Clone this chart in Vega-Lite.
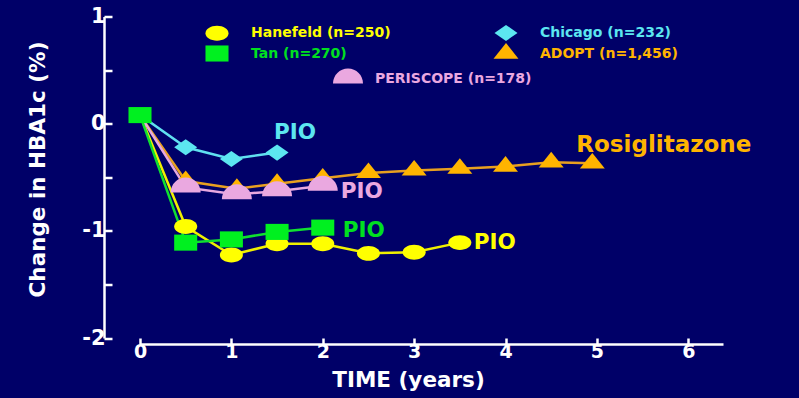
{
  "$schema": "https://vega.github.io/schema/vega-lite/v6.json",
  "width": 583,
  "height": 321.5,
  "autosize": {"type": "none"},
  "padding": {"left": 140, "top": 16.5, "right": 76, "bottom": 60},
  "background": "#000068",
  "config": {"view": {"stroke": null}, "font": "DejaVu Sans"},
  "data": {
    "values": [
      {"study": "Hanefeld (n=250)", "t": 0, "v": 0.08},
      {"study": "Hanefeld (n=250)", "t": 0.5, "v": -0.96},
      {"study": "Hanefeld (n=250)", "t": 1, "v": -1.225},
      {"study": "Hanefeld (n=250)", "t": 1.5, "v": -1.12},
      {"study": "Hanefeld (n=250)", "t": 2, "v": -1.12},
      {"study": "Hanefeld (n=250)", "t": 2.5, "v": -1.21},
      {"study": "Hanefeld (n=250)", "t": 3, "v": -1.2},
      {"study": "Hanefeld (n=250)", "t": 3.5, "v": -1.11},
      {"study": "Chicago (n=232)", "t": 0, "v": 0.08},
      {"study": "Chicago (n=232)", "t": 0.5, "v": -0.22},
      {"study": "Chicago (n=232)", "t": 1, "v": -0.33},
      {"study": "Chicago (n=232)", "t": 1.5, "v": -0.27},
      {"study": "ADOPT (n=1,456)", "t": 0, "v": 0.08},
      {"study": "ADOPT (n=1,456)", "t": 0.5, "v": -0.535},
      {"study": "ADOPT (n=1,456)", "t": 1.06, "v": -0.607},
      {"study": "ADOPT (n=1,456)", "t": 1.5, "v": -0.56},
      {"study": "ADOPT (n=1,456)", "t": 2, "v": -0.51},
      {"study": "ADOPT (n=1,456)", "t": 2.5, "v": -0.46},
      {"study": "ADOPT (n=1,456)", "t": 3, "v": -0.436},
      {"study": "ADOPT (n=1,456)", "t": 3.5, "v": -0.42},
      {"study": "ADOPT (n=1,456)", "t": 4, "v": -0.4},
      {"study": "ADOPT (n=1,456)", "t": 4.5, "v": -0.36},
      {"study": "ADOPT (n=1,456)", "t": 4.95, "v": -0.37},
      {"study": "PERISCOPE (n=178)", "t": 0, "v": 0.08},
      {"study": "PERISCOPE (n=178)", "t": 0.5, "v": -0.595},
      {"study": "PERISCOPE (n=178)", "t": 1.06, "v": -0.66},
      {"study": "PERISCOPE (n=178)", "t": 1.5, "v": -0.63},
      {"study": "PERISCOPE (n=178)", "t": 2, "v": -0.58},
      {"study": "Tan (n=270)", "t": 0, "v": 0.08},
      {"study": "Tan (n=270)", "t": 0.5, "v": -1.11},
      {"study": "Tan (n=270)", "t": 1, "v": -1.08},
      {"study": "Tan (n=270)", "t": 1.5, "v": -1.01},
      {"study": "Tan (n=270)", "t": 2, "v": -0.97}
    ]
  },
  "encoding": {
    "x": {
      "field": "t", "type": "quantitative",
      "scale": {"domain": [0, 6.38], "nice": false, "zero": false},
      "axis": {
        "title": "TIME (years)", "offset": 6, "values": [0, 1, 2, 3, 4, 5, 6],
        "tickSize": -6, "tickColor": "white", "tickWidth": 2.5,
        "domainColor": "white", "domainWidth": 2.5, "grid": false,
        "labelFlush": false, "labelColor": "white", "labelFont": "DejaVu Sans",
        "labelFontSize": 19, "labelFontWeight": "bold", "labelPadding": 4,
        "titleColor": "white", "titleFont": "DejaVu Sans", "titleFontSize": 21.5,
        "titleFontWeight": "bold", "titleX": 268, "titleY": 25, "titleBaseline": "top"
      }
    },
    "y": {
      "field": "v", "type": "quantitative",
      "scale": {"domain": [-2, 1], "nice": false, "zero": false},
      "axis": {
        "title": "Change in HBA1c (%)", "offset": 36,
        "values": [-2, -1.5, -1, -0.5, 0, 0.5, 1],
        "labelExpr": "datum.value % 1 === 0 ? '' + datum.value : ''",
        "tickSize": -8, "tickColor": "white", "tickWidth": 2.5,
        "domainColor": "white", "domainWidth": 2.5, "grid": false,
        "labelColor": "white", "labelFont": "DejaVu Sans", "labelFontSize": 21,
        "labelFontWeight": "bold", "labelPadding": 7, "labelOverlap": false,
        "titleColor": "white", "titleFont": "DejaVu Sans", "titleFontSize": 21.5,
        "titleFontWeight": "bold", "titleX": -60, "titleY": 152.5,
        "titleBaseline": "alphabetic"
      }
    }
  },
  "layer": [
    {
      "mark": {"type": "line", "strokeWidth": 2.5},
      "encoding": {
        "color": {
          "field": "study", "type": "nominal", "legend": null,
          "scale": {
            "domain": ["Hanefeld (n=250)", "Tan (n=270)", "Chicago (n=232)", "ADOPT (n=1,456)", "PERISCOPE (n=178)"],
            "range": ["#f0f000", "#10e030", "#60e0f0", "#e8a020", "#e8a8e0"]
          }
        },
        "detail": {"field": "study"}
      }
    },
    {
      "transform": [{"filter": "datum.study !== 'PERISCOPE (n=178)' && (datum.t > 0 || datum.study === 'Tan (n=270)')"}],
      "mark": {"type": "point", "filled": true, "opacity": 1, "size": 576, "strokeWidth": 0},
      "encoding": {
        "color": {
          "field": "study", "type": "nominal",
          "scale": {
            "domain": ["Hanefeld (n=250)", "Tan (n=270)", "Chicago (n=232)", "ADOPT (n=1,456)"],
            "range": ["#ffff00", "#00f020", "#5ce6f0", "#ffb400"]
          },
          "legend": {
            "orient": "none", "legendX": 65, "legendY": 4, "columns": 2, "title": null,
            "padding": 0, "symbolSize": 576, "symbolStrokeWidth": 0, "symbolOpacity": 1,
            "labelFont": "DejaVu Sans", "labelFontSize": 14, "labelFontWeight": "bold",
            "labelOffset": 22, "columnPadding": 102, "rowPadding": -1,
            "encode": {"labels": {"update": {"fill": {"signal": "datum.value === 'Hanefeld (n=250)' ? '#ffff00' : datum.value === 'Tan (n=270)' ? '#00e020' : datum.value === 'Chicago (n=232)' ? '#5ce6f0' : '#ffb400'"}}}}
          }
        },
        "shape": {
          "field": "study", "type": "nominal",
          "scale": {
            "domain": ["Hanefeld (n=250)", "Tan (n=270)", "Chicago (n=232)", "ADOPT (n=1,456)"],
            "range": [
              "M -0.96 0 A 0.96 0.62 0 1 1 0.96 0 A 0.96 0.62 0 1 1 -0.96 0 Z",
              "M -0.96 -0.67 L 0.96 -0.67 L 0.96 0.67 L -0.96 0.67 Z",
              "M -0.96 0 L 0 -0.67 L 0.96 0 L 0 0.67 Z",
              "M -1.04 0.43 L 0 -0.87 L 1.04 0.43 Z"
            ]
          }
        }
      }
    },
    {
      "transform": [{"filter": "datum.study === 'PERISCOPE (n=178)' && datum.t > 0"}],
      "mark": {"type": "point", "filled": true, "opacity": 1, "size": 900, "strokeWidth": 0},
      "encoding": {
        "color": {
          "field": "study", "type": "nominal",
          "scale": {"domain": ["PERISCOPE (n=178)"], "range": ["#eaa8e0"]},
          "legend": {
            "orient": "none", "legendX": 193, "legendY": 47, "title": null,
            "padding": 0, "symbolSize": 900, "symbolStrokeWidth": 0, "symbolOpacity": 1,
            "labelFont": "DejaVu Sans", "labelFontSize": 14, "labelFontWeight": "bold",
            "labelOffset": 12, "labelColor": "#eaa8e0"
          }
        },
        "shape": {
          "field": "study", "type": "nominal",
          "scale": {"domain": ["PERISCOPE (n=178)"], "range": ["M -1 0.33 A 1 1 0 0 1 1 0.33 Z"]}
        }
      }
    },
    {
      "transform": [{"filter": "datum.study === 'Chicago (n=232)' && datum.t === 1.5"}],
      "mark": {"type": "text", "text": "PIO", "align": "left", "baseline": "middle", "dx": -3, "dy": -20, "font": "DejaVu Sans", "fontSize": 21.5, "fontWeight": "bold", "color": "#5ce6f0"}
    },
    {
      "transform": [{"filter": "datum.study === 'PERISCOPE (n=178)' && datum.t === 2"}],
      "mark": {"type": "text", "text": "PIO", "align": "left", "baseline": "middle", "dx": 18, "dy": 6, "font": "DejaVu Sans", "fontSize": 21.5, "fontWeight": "bold", "color": "#eaa8e0"}
    },
    {
      "transform": [{"filter": "datum.study === 'Tan (n=270)' && datum.t === 2"}],
      "mark": {"type": "text", "text": "PIO", "align": "left", "baseline": "middle", "dx": 20, "dy": 3, "font": "DejaVu Sans", "fontSize": 21.5, "fontWeight": "bold", "color": "#00e020"}
    },
    {
      "transform": [{"filter": "datum.study === 'Hanefeld (n=250)' && datum.t === 3.5"}],
      "mark": {"type": "text", "text": "PIO", "align": "left", "baseline": "middle", "dx": 14, "dy": 0, "font": "DejaVu Sans", "fontSize": 21.5, "fontWeight": "bold", "color": "#ffff00"}
    },
    {
      "transform": [{"filter": "datum.study === 'ADOPT (n=1,456)' && datum.t === 4.95"}],
      "mark": {"type": "text", "text": "Rosiglitazone", "align": "left", "baseline": "middle", "dx": -16, "dy": -18, "font": "DejaVu Sans", "fontSize": 23, "fontWeight": "bold", "color": "#ffb400"}
    }
  ],
  "resolve": {"scale": {"color": "independent", "shape": "independent"}}
}
